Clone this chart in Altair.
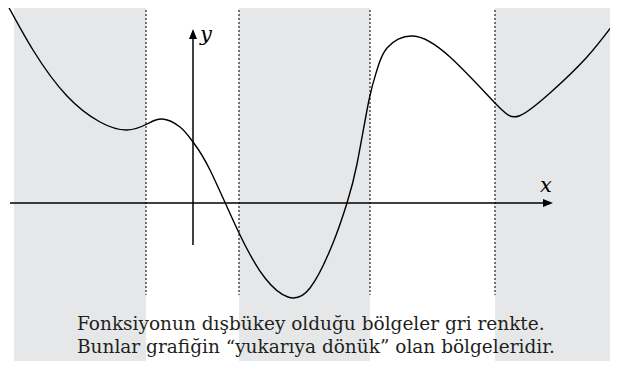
import altair as alt
import pandas as pd

# curve samples (math units; origin at axis crossing)
curve_x = [-3.86, -3.2, -2.52, -1.86, -1.32, -0.92, -0.62, -0.26, 0.0, 0.34, 0.92,
           1.44, 1.9, 2.34, 2.8, 3.08, 3.28, 3.52, 3.68, 3.88, 4.4, 5.14,
           6.04, 6.52, 7.14, 7.88, 8.5]
curve_y = [4.24, 3.06, 2.14, 1.62, 1.46, 1.58, 1.68, 1.52, 1.22, 0.66, -0.6,
           -1.5, -1.88, -1.7, -0.8, 0.0, 0.78, 2.06, 2.66, 3.1, 3.34, 2.92,
           2.0, 1.74, 2.2, 2.92, 3.7]

# convex (shaded) regions
band_start = [-3.58, 0.92, 6.04]
band_end = [-0.94, 3.54, 8.6]
# inflection points (dotted lines)
inflections = [-0.94, 0.92, 3.54, 6.04]

caption = ["Fonksiyonun dışbükey olduğu bölgeler gri renkte.",
           "Bunlar grafiğin “yukarıya dönük” olan bölgeleridir."]

SERIF = "DejaVu Serif"

X_DOM = [-3.7, 8.34]
Y_DOM = [-3.16, 3.9]
xs = alt.Scale(domain=X_DOM, nice=False, zero=False)
ys = alt.Scale(domain=Y_DOM, nice=False, zero=False)

bands = pd.DataFrame({"x": band_start, "x2": band_end, "y": [4.5] * 3, "y2": [-3.24] * 3})
band_layer = alt.Chart(bands).mark_rect(color="#e6e7e8", clip=True).encode(
    x=alt.X("x:Q", scale=xs, axis=None), x2="x2:Q",
    y=alt.Y("y:Q", scale=ys, axis=None), y2="y2:Q")

dots = pd.DataFrame({"x": inflections, "y": [4.5] * 4, "y2": [-1.84] * 4})
dot_layer = alt.Chart(dots).mark_rule(color="#555555", strokeWidth=1.6, strokeDash=[2, 2], clip=True).encode(
    x=alt.X("x:Q", scale=xs, axis=None),
    y=alt.Y("y:Q", scale=ys, axis=None), y2="y2:Q")

xaxis = pd.DataFrame({"x": [-3.66], "x2": [7.05], "y": [0.0]})
xaxis_layer = alt.Chart(xaxis).mark_rule(color="black", strokeWidth=1.5).encode(
    x=alt.X("x:Q", scale=xs, axis=None), x2="x2:Q",
    y=alt.Y("y:Q", scale=ys, axis=None))
yaxis = pd.DataFrame({"x": [0.0], "y": [-0.84], "y2": [3.3]})
yaxis_layer = alt.Chart(yaxis).mark_rule(color="black", strokeWidth=1.5).encode(
    x=alt.X("x:Q", scale=xs, axis=None),
    y=alt.Y("y:Q", scale=ys, axis=None), y2="y2:Q")

xhead = pd.DataFrame({"x": [7.2], "y": [0.0]})
xhead_layer = alt.Chart(xhead).mark_point(
    shape="M0,0L-2,-0.8L-2,0.8Z", size=100, filled=True, color="black", opacity=1).encode(
    x=alt.X("x:Q", scale=xs, axis=None), y=alt.Y("y:Q", scale=ys, axis=None))
yhead = pd.DataFrame({"x": [0.0], "y": [3.48]})
yhead_layer = alt.Chart(yhead).mark_point(
    shape="M0,0L-0.8,2L0.8,2Z", size=100, filled=True, color="black", opacity=1).encode(
    x=alt.X("x:Q", scale=xs, axis=None), y=alt.Y("y:Q", scale=ys, axis=None))

curve = pd.DataFrame({"x": curve_x, "y": curve_y})
curve_layer = alt.Chart(curve).mark_line(color="black", strokeWidth=1.4, interpolate="natural", clip=True).encode(
    x=alt.X("x:Q", scale=xs, axis=None), y=alt.Y("y:Q", scale=ys, axis=None))

labels = pd.DataFrame({"x": [0.26, 7.06], "y": [3.24, 0.22], "t": ["y", "x"]})
label_layer = alt.Chart(labels).mark_text(
    font=SERIF, fontStyle="italic", fontSize=21, align="center", baseline="alphabetic", color="black").encode(
    x=alt.X("x:Q", scale=xs, axis=None), y=alt.Y("y:Q", scale=ys, axis=None), text="t:N")

cap = pd.DataFrame({"x": [-2.32, -2.32], "y": [-2.54, -3.0], "t": caption})
cap_layer = alt.Chart(cap).mark_text(
    font=SERIF, fontSize=18.5, align="left", baseline="alphabetic", color="#231f20").encode(
    x=alt.X("x:Q", scale=xs, axis=None), y=alt.Y("y:Q", scale=ys, axis=None), text="t:N")

chart = alt.layer(band_layer, dot_layer, xaxis_layer, yaxis_layer, xhead_layer, yhead_layer,
                  curve_layer, label_layer, cap_layer).properties(
    width=602, height=353, padding=0, autosize=alt.AutoSizeParams(type="none")
).configure_view(stroke=None)

chart.save("out.html", embed_options={"renderer": "svg", "actions": False})
